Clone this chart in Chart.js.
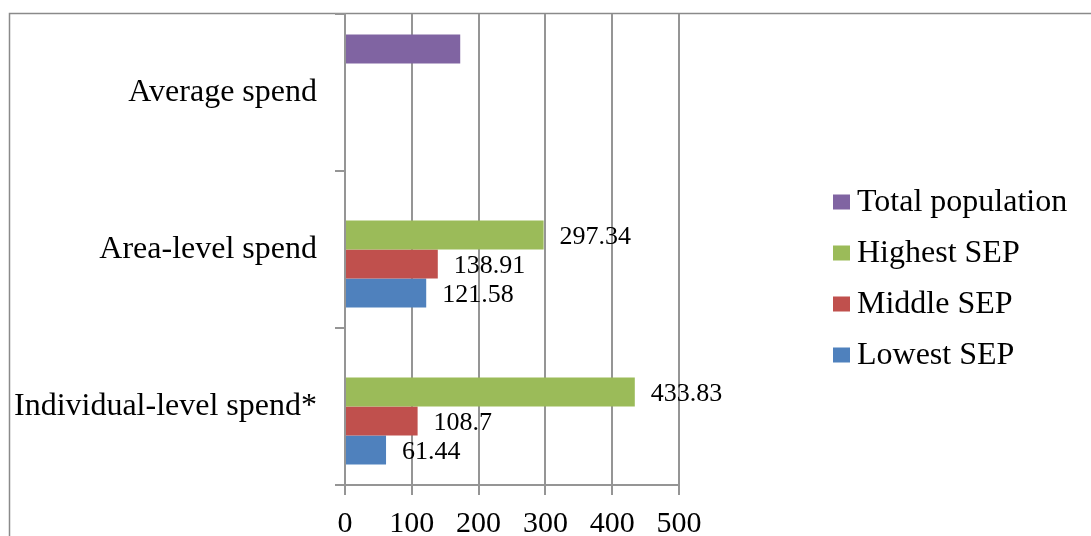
<!DOCTYPE html>
<html>
<head>
<meta charset="utf-8">
<script src="https://cdn.jsdelivr.net/npm/chart.js@4/dist/chart.umd.min.js"></script>
<style>
  html, body { margin: 0; padding: 0; background: #ffffff; }
  #wrap { width: 1091px; height: 536px; }
</style>
</head>
<body>
<div id="wrap"><canvas id="c" width="1091" height="536"></canvas></div>
<script>
// Spend categories, top to bottom
const categories = ['Average spend', 'Area-level spend', 'Individual-level spend*'];

// Series values per category (null where a series has no bar)
const totalPopulation = [172.5, null, null];
const highestSEP = [null, 297.34, 433.83];
const middleSEP = [null, 138.91, 108.7];
const lowestSEP = [null, 121.58, 61.44];

// Value axis ticks
const xTicks = [0, 100, 200, 300, 400, 500];

const SERIF = "'Liberation Serif', 'Times New Roman', serif";
const GRID = '#959595';

const series = [
  { label: 'Total population', data: totalPopulation, color: '#8064A2', showValues: false },
  { label: 'Highest SEP', data: highestSEP, color: '#9BBB59', showValues: true },
  { label: 'Middle SEP', data: middleSEP, color: '#C0504D', showValues: true },
  { label: 'Lowest SEP', data: lowestSEP, color: '#4F81BD', showValues: true }
];

// Outer frame of the chart area
const framePlugin = {
  id: 'frame',
  beforeDraw(chart) {
    const ctx = chart.ctx;
    ctx.save();
    ctx.strokeStyle = '#8a8a8a';
    ctx.lineWidth = 1.5;
    ctx.strokeRect(9.5, 13.5, 1200, 700);
    ctx.restore();
  }
};

// Value labels to the right of each bar
const valueLabelPlugin = {
  id: 'valueLabels',
  afterDatasetsDraw(chart) {
    const ctx = chart.ctx;
    ctx.save();
    ctx.font = '26px ' + SERIF;
    ctx.fillStyle = '#000000';
    ctx.textAlign = 'left';
    ctx.textBaseline = 'middle';
    chart.data.datasets.forEach((ds, i) => {
      if (!ds.showValues) return;
      const meta = chart.getDatasetMeta(i);
      meta.data.forEach((bar, j) => {
        const v = ds.data[j];
        if (v === null || v === undefined) return;
        ctx.fillText(String(v), bar.x + 16, bar.y + 2);
      });
    });
    ctx.restore();
  }
};

// Legend at the right, one series per row
const sideLegendPlugin = {
  id: 'sideLegend',
  afterDraw(chart) {
    const ctx = chart.ctx;
    const x0 = 833, firstY = 202, rowGap = 51;
    ctx.save();
    ctx.font = '32px ' + SERIF;
    ctx.textAlign = 'left';
    ctx.textBaseline = 'middle';
    chart.data.datasets.forEach((ds, i) => {
      const cy = firstY + i * rowGap;
      ctx.fillStyle = ds.backgroundColor;
      ctx.fillRect(x0, cy - 7.5, 17, 15);
      ctx.fillStyle = '#000000';
      ctx.fillText(ds.label, x0 + 24, cy + 1);
    });
    ctx.restore();
  }
};

new Chart(document.getElementById('c'), {
  type: 'bar',
  data: {
    labels: categories,
    datasets: series.map(s => ({
      label: s.label,
      data: s.data,
      backgroundColor: s.color,
      borderWidth: 0,
      showValues: s.showValues,
      categoryPercentage: 0.739,
      barPercentage: 1.0
    }))
  },
  options: {
    indexAxis: 'y',
    responsive: false,
    animation: false,
    events: [],
    layout: { padding: { left: 0, top: 14, right: 412, bottom: 0 } },
    plugins: {
      legend: { display: false },
      tooltip: { enabled: false },
      title: { display: false }
    },
    scales: {
      x: {
        type: 'linear',
        min: 0,
        max: 500,
        afterBuildTicks(scale) { scale.ticks = xTicks.map(v => ({ value: v })); },
        afterFit(scale) { scale.height = 51; },
        grid: {
          display: true,
          drawOnChartArea: true,
          drawTicks: true,
          tickLength: 10,
          color: GRID,
          lineWidth: 2
        },
        border: { display: true, color: GRID, width: 2 },
        ticks: {
          color: '#000000',
          font: { family: SERIF, size: 30 },
          padding: 11,
          maxRotation: 0
        }
      },
      y: {
        type: 'category',
        offset: true,
        afterFit(scale) {
          scale.width = 345;
          scale.paddingTop = 0;
          scale.paddingBottom = 0;
        },
        grid: {
          display: true,
          offset: true,
          drawOnChartArea: false,
          drawTicks: true,
          tickLength: 10,
          color: GRID,
          lineWidth: 2
        },
        border: { display: true, color: GRID, width: 2 },
        ticks: {
          color: '#000000',
          font: { family: SERIF, size: 32 },
          padding: 18
        }
      }
    }
  },
  plugins: [framePlugin, valueLabelPlugin, sideLegendPlugin]
});
</script>
</body>
</html>
